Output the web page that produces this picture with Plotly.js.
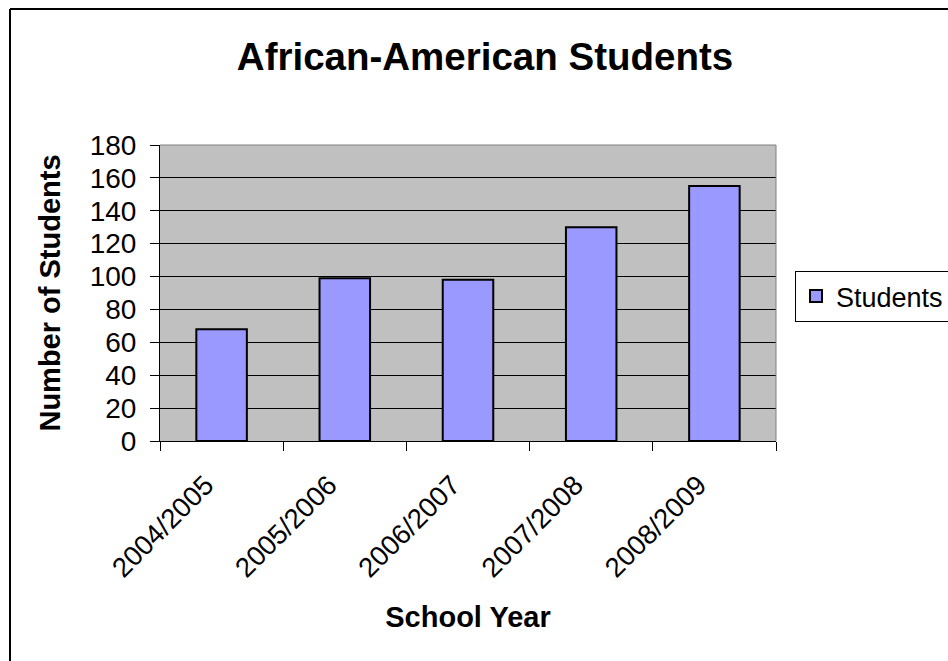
<!DOCTYPE html>
<html>
<head>
<meta charset="utf-8">
<script src="https://cdn.plot.ly/plotly-3.0.1.min.js"></script>
<style>
  html, body { margin: 0; padding: 0; background: #ffffff; overflow: hidden; }
  #chart { display: block; width: 948px; height: 661px; }
</style>
</head>
<body>
<div id="chart"></div>
<script>
// Enrollment by school year
const schoolYears = ['2004/2005', '2005/2006', '2006/2007', '2007/2008', '2008/2009'];
const studentCounts = [68, 99, 98, 130, 155];
const yTickValues = [0, 20, 40, 60, 80, 100, 120, 140, 160, 180];

const W = 948, H = 661;
const M = { l: 160, r: 172, t: 145, b: 220, autoexpand: false };
const plotW = W - M.l - M.r, plotH = H - M.t - M.b;
// convert page pixels to paper fractions for the frame lines
const px = x => (x - M.l) / plotW;
const py = y => (H - M.b - y) / plotH;

const FONT = 'Liberation Sans, Arial, sans-serif';

const trace = {
  type: 'bar',
  name: 'Students',
  x: schoolYears,
  y: studentCounts,
  marker: { color: '#9999ff', line: { color: '#000000', width: 2 } },
  hoverinfo: 'x+y'
};

const layout = {
  width: W,
  height: H,
  autosize: false,
  margin: M,
  paper_bgcolor: '#ffffff',
  plot_bgcolor: '#c0c0c0',
  bargap: 0.59,
  showlegend: true,
  font: { family: FONT, color: '#000000', size: 28 },
  title: {
    text: '<b>African-American Students</b>',
    font: { family: FONT, size: 38.5, color: '#000000' },
    xref: 'container', x: 485 / W, xanchor: 'center',
    yref: 'container', y: 1 - 57 / H, yanchor: 'middle'
  },
  xaxis: {
    type: 'category',
    tickson: 'boundaries',
    ticks: 'outside',
    ticklen: 9,
    tickwidth: 1,
    tickcolor: '#000000',
    tickangle: -45,
    ticklabelstandoff: 16,
    ticklabelshift: -16,
    tickfont: { family: FONT, size: 27.5, color: '#000000' },
    showline: true,
    linecolor: '#000000',
    linewidth: 1,
    showgrid: false,
    zeroline: false,
    automargin: false,
    title: {
      text: '<b>School Year</b>',
      font: { family: FONT, size: 29, color: '#000000' },
      standoff: 24
    }
  },
  yaxis: {
    range: [0, 180],
    tickvals: yTickValues,
    ticktext: yTickValues.map(String),
    ticks: 'outside',
    ticklen: 9,
    tickwidth: 1,
    tickcolor: '#000000',
    ticklabelstandoff: 8,
    tickfont: { family: FONT, size: 28, color: '#000000' },
    showline: true,
    linecolor: '#000000',
    linewidth: 1,
    showgrid: true,
    gridcolor: '#000000',
    gridwidth: 1,
    zeroline: false,
    automargin: false,
    title: {
      text: '<b>Number of Students</b>',
      font: { family: FONT, size: 29, color: '#000000' },
      standoff: 20
    }
  },
  legend: {
    x: px(795), xanchor: 'left',
    y: py(271), yanchor: 'top',
    bgcolor: '#ffffff',
    bordercolor: '#000000',
    borderwidth: 1,
    itemwidth: 30,
    font: { family: FONT, size: 27, color: '#000000' }
  },
  shapes: [
    // top and right edges of the plot area
    { type: 'line', xref: 'paper', yref: 'paper', x0: 0, x1: 1, y0: 1, y1: 1,
      line: { color: '#808080', width: 1 } },
    { type: 'line', xref: 'paper', yref: 'paper', x0: 1, x1: 1, y0: 0, y1: 1,
      line: { color: '#808080', width: 1 } },
    // outer chart frame (left and top)
    { type: 'line', xref: 'paper', yref: 'paper', x0: px(10), x1: px(10), y0: py(9), y1: py(H + 5),
      line: { color: '#000000', width: 2 } },
    { type: 'line', xref: 'paper', yref: 'paper', x0: px(10), x1: px(W + 5), y0: py(9), y1: py(9),
      line: { color: '#000000', width: 2 } }
  ]
};

Plotly.newPlot('chart', [trace], layout, { displayModeBar: false, staticPlot: true });
</script>
</body>
</html>
